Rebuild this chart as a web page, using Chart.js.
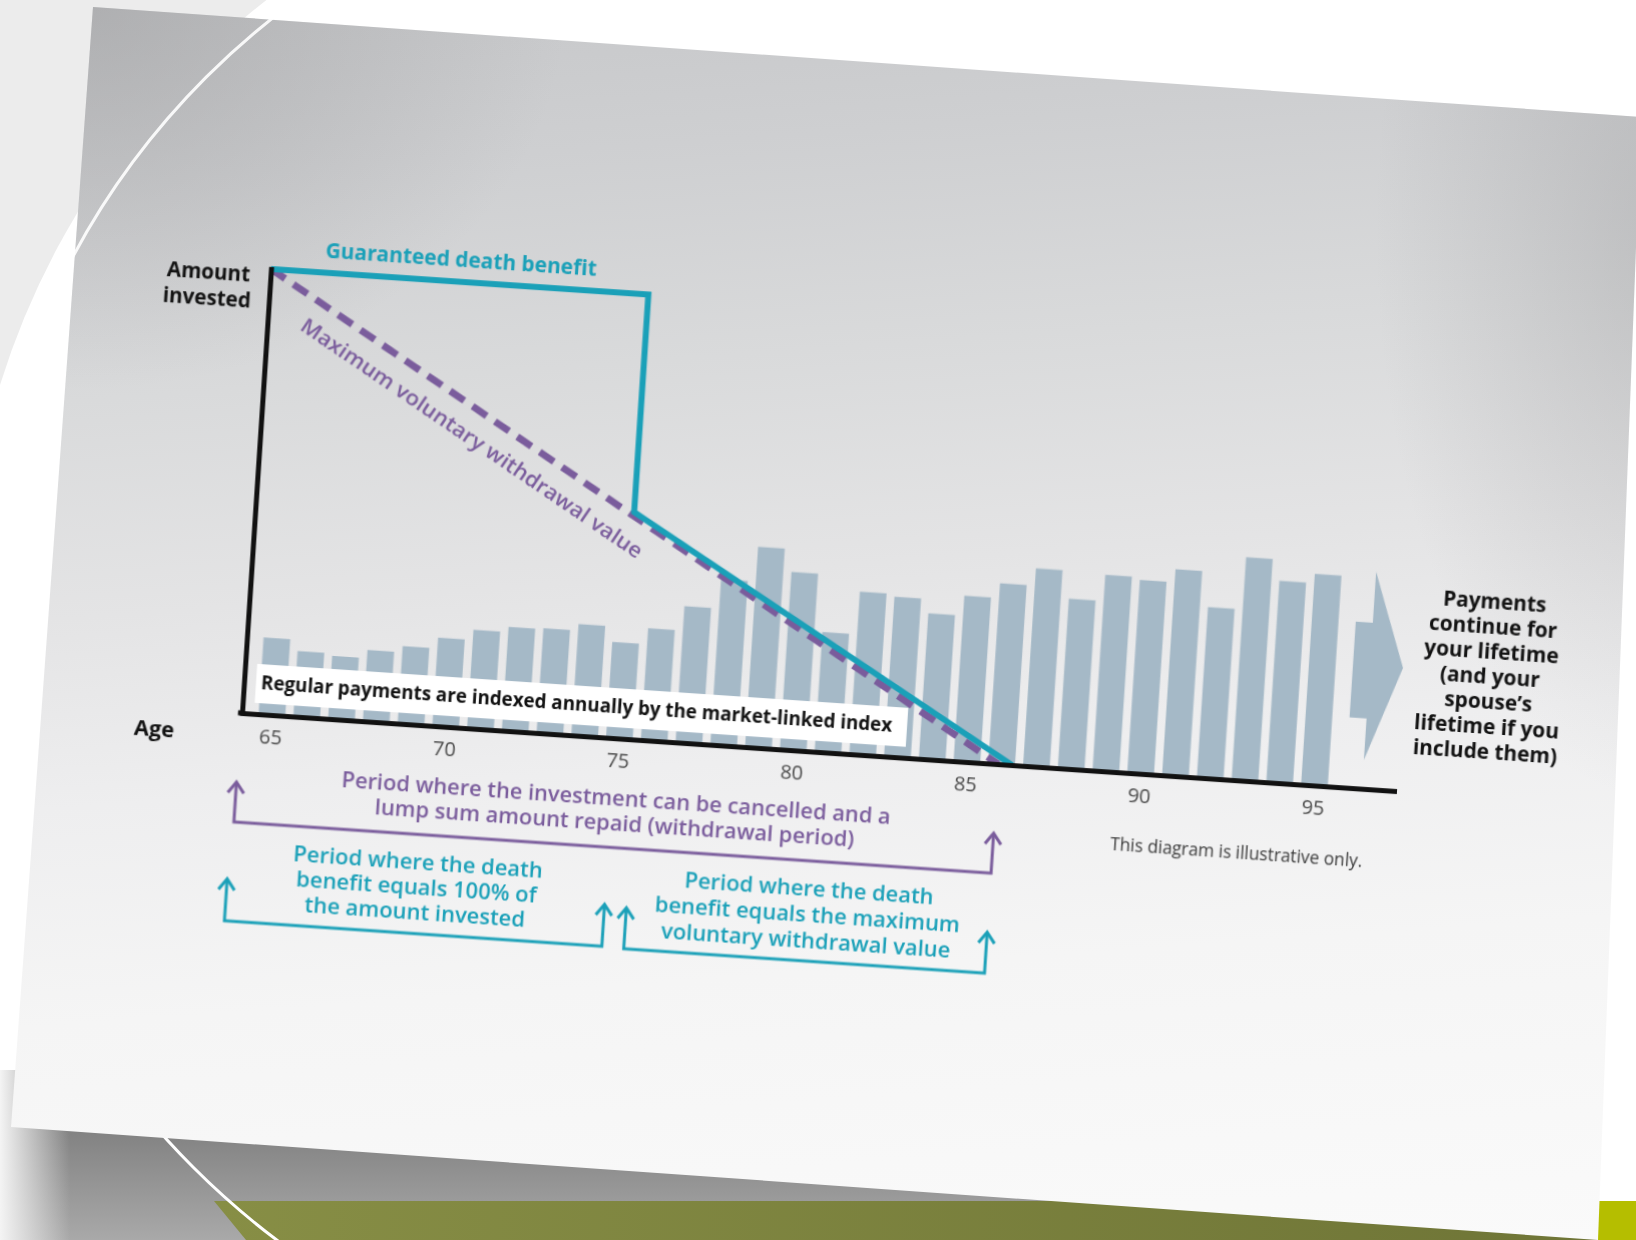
<!DOCTYPE html>
<html>
<head>
<meta charset="utf-8">
<script src="https://cdn.jsdelivr.net/npm/chart.js@4.4.1/dist/chart.umd.min.js"></script>
<style>
html,body{margin:0;padding:0;width:1636px;height:1240px;overflow:hidden;background:#fff;}
svg{position:absolute;left:0;top:0;}
#paper{position:absolute;left:0;top:0;width:1636px;height:1240px;
  clip-path:polygon(93px 7px,1641px 117px,1598px 1240px,11px 1127px);
  background:
    radial-gradient(ellipse 650px 520px at 80px 0px, rgba(140,140,142,0.42), rgba(140,140,142,0) 75%),
    radial-gradient(ellipse 380px 760px at 1660px 230px, rgba(140,140,142,0.32), rgba(140,140,142,0) 75%),
    linear-gradient(176deg, #c6c7c9 0%, #cecfd1 14%, #d9dadb 30%, #e4e4e5 46%, #eeeeef 60%, #f5f5f5 76%, #fafafa 100%);
}
#wrap{position:absolute;left:92px;top:193px;width:1500px;height:780px;
  transform-origin:150px 520px;transform:matrix(1,0.0676,-0.0653,1,0,0);}
</style>
</head>
<body>
<svg width="1636" height="1240">
  <defs>
    <linearGradient id="sh" x1="0" y1="0" x2="0" y2="1">
      <stop offset="0" stop-color="#6c6c6c"/><stop offset="1" stop-color="#a9a9a9"/>
    </linearGradient>
    <linearGradient id="shl" x1="0" y1="0" x2="1" y2="0">
      <stop offset="0" stop-color="#f4f4f4" stop-opacity="1"/><stop offset="1" stop-color="#f4f4f4" stop-opacity="0"/>
    </linearGradient>
    <linearGradient id="ol" x1="0" y1="0" x2="1" y2="0">
      <stop offset="0" stop-color="#878e45"/><stop offset="1" stop-color="#6e7436"/>
    </linearGradient>
    <clipPath id="cb"><rect x="0" y="1050" width="420" height="190"/></clipPath>
  </defs>
  <rect width="1636" height="1240" fill="#ffffff"/>
  <rect x="0" y="0" width="800" height="700" fill="#ececec"/>
  <circle cx="745" cy="616" r="780" fill="#ffffff"/>
  <rect x="0" y="1070" width="1598" height="170" fill="url(#sh)"/>
  <rect x="0" y="1070" width="70" height="170" fill="url(#shl)"/>
  <polygon points="214,1201 1636,1201 1636,1240 246,1240" fill="url(#ol)"/>
  <rect x="1598" y="1201" width="38" height="39" fill="#b5be00"/>
  <circle cx="745" cy="616" r="780" fill="none" stroke="#ffffff" stroke-width="3" clip-path="url(#cb)"/>
</svg>
<div id="paper"></div>
<svg width="1636" height="1240">
  <defs><clipPath id="ct"><rect x="0" y="0" width="330" height="270"/></clipPath></defs>
  <circle cx="745" cy="616" r="762" fill="none" stroke="#ffffff" stroke-width="3" stroke-opacity="0.9" clip-path="url(#ct)"/>
</svg>
<div id="wrap"><canvas id="c" width="1500" height="780"></canvas></div>
<script>
// ---- data ----
const ages = [65,66,67,68,69,70,71,72,73,74,75,76,77,78,79,80,81,82,83,84,85,86,87,88,89,90,91,92,93,94,95];
const payments = [17.2,14.7,14.1,16.0,17.4,19.8,22.1,23.3,23.5,25.0,21.5,25.1,30.6,37.2,45.0,39.9,26.9,36.5,35.9,32.7,37.2,40.5,44.4,38.1,44.0,43.4,46.3,38.3,50.1,45.3,47.4];
const tickAges = [65,70,75,80,85,90,95];
const axisAges = [64.14, 97.35];
const guaranteedAges = [64.14, 75, 75, 86.3];
const guaranteedValues = [100, 100, 51, 0];
const withdrawalAges = [64.14, 85.9];
const withdrawalValues = [100, 0];

const TEAL = '#1aa0b8', PURPLE = '#7a5c9c', BAR = '#a5b9c7';
const FONT = '"Open Sans","Noto Sans",sans-serif';

function txt(ctx, s, x, y, size, weight, color, w, rot) {
  ctx.save();
  ctx.font = weight + ' ' + size + 'px ' + FONT;
  ctx.fillStyle = color; ctx.textAlign = 'center'; ctx.textBaseline = 'middle';
  ctx.translate(x, y);
  if (rot) ctx.rotate(rot);
  if (w) { const m = ctx.measureText(s).width; ctx.scale(w / m, 1); }
  ctx.fillText(s, 0, 0);
  ctx.restore();
}
function block(ctx, lines, targets, cx, y0, dy, size, weight, color) {
  ctx.save();
  ctx.font = weight + ' ' + size + 'px ' + FONT;
  let r = 0;
  lines.forEach((l, i) => { r += targets[i] / ctx.measureText(l).width; });
  r /= lines.length;
  ctx.fillStyle = color; ctx.textAlign = 'center'; ctx.textBaseline = 'middle';
  lines.forEach((l, i) => {
    ctx.save(); ctx.translate(cx, y0 + i * dy); ctx.scale(r, 1); ctx.fillText(l, 0, 0); ctx.restore();
  });
  ctx.restore();
}
function bracket(ctx, x1, x2, yTip, yBase, color) {
  ctx.save();
  ctx.strokeStyle = color; ctx.lineWidth = 3; ctx.lineJoin = 'miter'; ctx.lineCap = 'butt';
  ctx.beginPath(); ctx.moveTo(x1, yTip + 1); ctx.lineTo(x1, yBase); ctx.lineTo(x2, yBase); ctx.lineTo(x2, yTip + 1); ctx.stroke();
  [x1, x2].forEach(x => {
    ctx.beginPath(); ctx.moveTo(x - 8, yTip + 11); ctx.lineTo(x, yTip); ctx.lineTo(x + 8, yTip + 11); ctx.stroke();
  });
  ctx.restore();
}

const annot = {
  id: 'annot',
  afterDatasetsDraw(chart) {
    const ctx = chart.ctx, xs = chart.scales.x, ys = chart.scales.y;
    const X = v => xs.getPixelForValue(v), Y = v => ys.getPixelForValue(v);
    const ox = chart.chartArea.left, oy = chart.chartArea.bottom;
    // big arrow after the bars
    ctx.save();
    ctx.fillStyle = BAR;
    ctx.beginPath();
    ctx.moveTo(X(95.88), Y(37.4));
    ctx.lineTo(X(96.37), Y(37.4));
    ctx.lineTo(X(96.37), Y(48.9));
    ctx.lineTo(X(97.32), Y(27.7));
    ctx.lineTo(X(96.37), Y(6.5));
    ctx.lineTo(X(96.37), Y(15.8));
    ctx.lineTo(X(95.88), Y(15.8));
    ctx.closePath(); ctx.fill();
    // white label box over the bars
    ctx.fillStyle = '#ffffff';
    ctx.fillRect(ox + 12, oy - 50, 651, 39);
    ctx.restore();
    txt(ctx, 'Regular payments are indexed annually by the market-linked index', ox + 332.5, oy - 30.5, 20, 700, '#111', 631);
  },
  afterDraw(chart) {
    const ctx = chart.ctx, xs = chart.scales.x, ys = chart.scales.y;
    const X = v => xs.getPixelForValue(v), Y = v => ys.getPixelForValue(v);
    const ox = chart.chartArea.left, oy = chart.chartArea.bottom;
    ctx.fillStyle = '#111';
    ctx.fillRect(ox - 4, oy - 2.5, 6.5, 5);
    // axis titles
    block(ctx, ['Amount', 'invested'], [84.5, 86.6], ox - 62, oy - 436.5, 26, 22, 700, '#111');
    txt(ctx, 'Age', ox - 86.5, oy + 23, 21, 700, '#111', 40);
    txt(ctx, 'Guaranteed death benefit', ox + 188.7, oy - 464.7, 21, 700, TEAL, 271);
    // label along the dashed line
    const x0 = X(withdrawalAges[0]), y0 = Y(withdrawalValues[0]);
    const x1 = X(withdrawalAges[1]), y1 = Y(withdrawalValues[1]);
    const a = Math.atan2(y1 - y0, x1 - x0);
    const t = (70.6 - withdrawalAges[0]) / (withdrawalAges[1] - withdrawalAges[0]);
    const px = x0 + (x1 - x0) * t, py = y0 + (y1 - y0) * t;
    txt(ctx, 'Maximum voluntary withdrawal value', px - 28 * Math.sin(a), py + 28 * Math.cos(a), 21, 600, PURPLE, 407, a);
    // right-hand note
    block(ctx, ['Payments', 'continue for', 'your lifetime', '(and your', 'spouse\u2019s', 'lifetime if you', 'include them)'],
      [102, 128, 135, 101, 87, 146, 143], ox + 1240, oy - 194, 25, 22, 700, '#111');
    txt(ctx, 'This diagram is illustrative only.', ox + 999, oy + 73, 18, 400, '#3a3a3a', 252);
    // withdrawal period bracket
    bracket(ctx, X(axisAges[0]) - 1, X(withdrawalAges[1]), oy + 69, oy + 109, PURPLE);
    block(ctx, ['Period where the investment can be cancelled and a', 'lump sum amount repaid (withdrawal period)'],
      [546, 482], ox + 378, oy + 61, 25, 21, 600, PURPLE);
    // death benefit brackets
    bracket(ctx, X(axisAges[0]) - 4, X(guaranteedAges[1]) - 4, oy + 166, oy + 208, TEAL);
    bracket(ctx, X(guaranteedAges[2]) + 18, X(withdrawalAges[1]), oy + 168, oy + 209, TEAL);
    block(ctx, ['Period where the death', 'benefit equals 100% of', 'the amount invested'],
      [247, 245, 218], ox + 185, oy + 138.5, 25, 21, 600, TEAL);
    block(ctx, ['Period where the death', 'benefit equals the maximum', 'voluntary withdrawal value'],
      [248, 301, 294], ox + 576, oy + 138, 26, 21, 600, TEAL);
  }
};

new Chart(document.getElementById('c'), {
  type: 'bar',
  data: {
    datasets: [
      { type: 'line', data: guaranteedAges.map((a, i) => ({ x: a, y: guaranteedValues[i] })),
        borderColor: TEAL, borderWidth: 6, pointRadius: 0, fill: false, clip: false, order: 1,
        borderJoinStyle: 'miter', tension: 0 },
      { type: 'line', data: withdrawalAges.map((a, i) => ({ x: a, y: withdrawalValues[i] })),
        borderColor: PURPLE, borderWidth: 7, pointRadius: 0, fill: false, clip: false, order: 2,
        borderDash: [17, 10], borderCapStyle: 'butt', tension: 0 },
      { type: 'bar', data: ages.map((a, i) => ({ x: a, y: payments[i] })),
        backgroundColor: BAR, barThickness: 26, order: 3 }
    ]
  },
  options: {
    responsive: false, animation: false, devicePixelRatio: 1,
    layout: { padding: { left: 150, top: 76, right: 196, bottom: 220 } },
    plugins: { legend: { display: false }, tooltip: { enabled: false } },
    scales: {
      x: { type: 'linear', min: axisAges[0], max: axisAges[1], offset: false,
        grid: { display: false, drawTicks: false },
        border: { display: true, color: '#111', width: 5, z: 1 },
        ticks: { padding: 11, color: '#4a4a4a', autoSkip: false, maxRotation: 0, z: 1,
          font: { family: FONT, size: 20, weight: 'normal' } },
        afterBuildTicks: s => { s.ticks = tickAges.map(v => ({ value: v })); },
        afterFit: s => { s.height = 40; } },
      y: { type: 'linear', min: 0, max: 100,
        grid: { display: false, drawTicks: false },
        border: { display: true, color: '#111', width: 5, z: 1 },
        ticks: { display: false },
        afterFit: s => { s.width = 0; } }
    }
  },
  plugins: [annot]
});
</script>
</body>
</html>
